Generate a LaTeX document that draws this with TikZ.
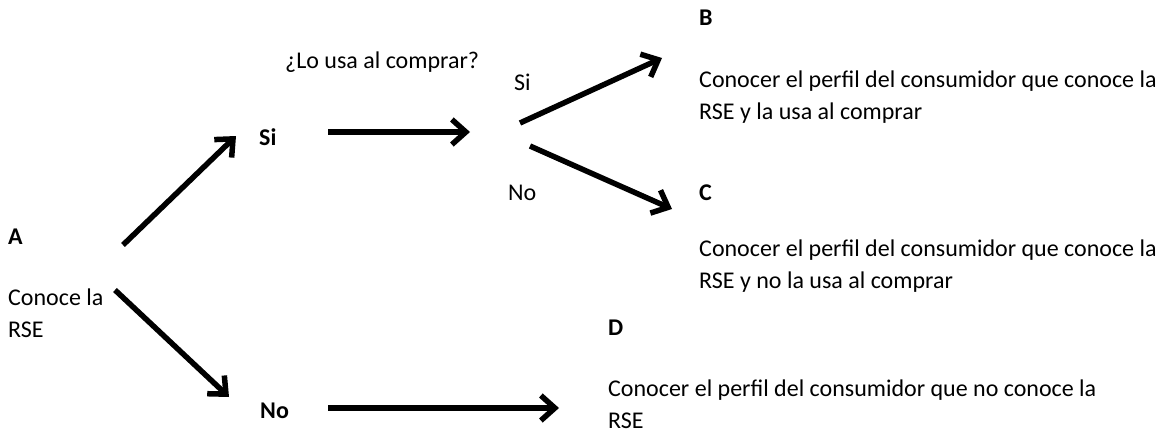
\documentclass[tikz,border=0pt]{standalone}
\usepackage{fontspec}
\setmainfont{Carlito}
\usetikzlibrary{arrows.meta}

\begin{document}
\begin{tikzpicture}[x=1pt,y=-1pt,font=\fontsize{24pt}{32pt}\selectfont]
	\tikzstyle{etiqueta}=[anchor=base west,inner sep=0pt]
	\tikzstyle{letra}=[etiqueta,font=\fontsize{24pt}{32pt}\selectfont\bfseries]
	\tikzstyle{texto}=[etiqueta,align=left]
	\tikzstyle{flecha}=[draw=black,line width=5.5pt,-{Straight Barb[length=14pt,width=25pt]}]
	\useasboundingbox (0,0) rectangle (1162,434);
	\begin{scope}

		\node [letra] (A) at (8,244) {A};
		\node [texto] (conoce) at (8,337) {Conoce la\\RSE};
		\node [letra] (siA) at (259,145) {Si};
		\node [letra] (noA) at (260,418) {No};
		\node [etiqueta] (pregunta) at (285,68) {¿Lo usa al comprar?};
		\node [etiqueta] (siB) at (514,90) {Si};
		\node [etiqueta] (noB) at (508,200) {No};
		\node [letra] (B) at (699,25) {B};
		\node [texto] (textoB) at (699,119) {Conocer el perfil del consumidor que conoce la\\RSE y la usa al comprar};
		\node [letra] (C) at (699,200) {C};
		\node [texto] (textoC) at (699,288) {Conocer el perfil del consumidor que conoce la\\RSE y no la usa al comprar};
		\node [letra] (D) at (608,335) {D};
		\node [texto] (textoD) at (608,428) {Conocer el perfil del consumidor que no conoce la\\RSE};

		% extremos de las flechas
		\coordinate (a1) at (123,245);
		\coordinate (a2) at (236,136);
		\coordinate (b1) at (115,290);
		\coordinate (b2) at (229,397);
		\coordinate (c1) at (328,132);
		\coordinate (c2) at (470,132);
		\coordinate (d1) at (520,123);
		\coordinate (d2) at (662,58);
		\coordinate (e1) at (530,146);
		\coordinate (e2) at (672,209);
		\coordinate (f1) at (328,408);
		\coordinate (f2) at (559,408);

		\draw[flecha] (a1) -- (a2);
		\draw[flecha] (b1) -- (b2);
		\draw[flecha] (c1) -- (c2);
		\draw[flecha] (d1) -- (d2);
		\draw[flecha] (e1) -- (e2);
		\draw[flecha] (f1) -- (f2);

	\end{scope}
\end{tikzpicture}
\end{document}
